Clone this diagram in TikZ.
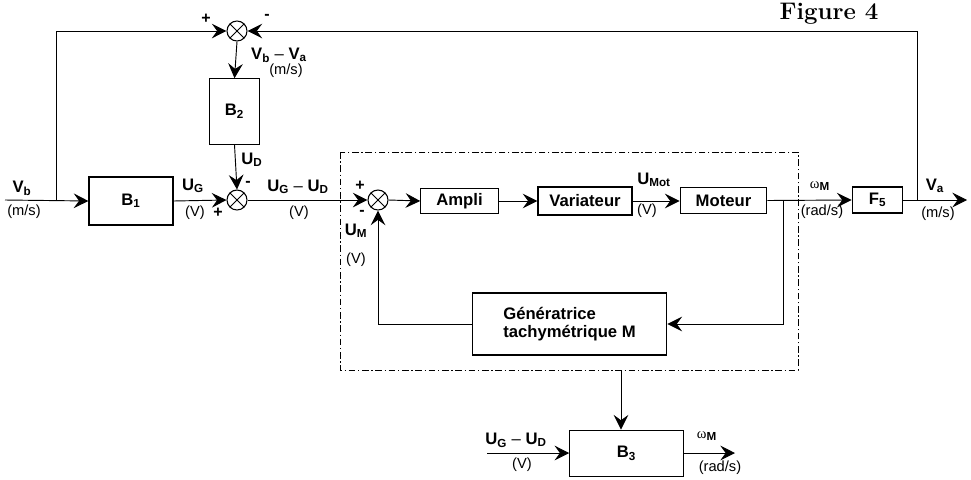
\documentclass[tikz,border=0pt]{standalone}
\usepackage{fontspec}
\setsansfont{Liberation Sans}
\newfontfamily\grkfont{Liberation Serif}
\usepackage{tikz}
\usetikzlibrary{arrows.meta}

\tikzset{
  blk/.style={draw,line width=0.9pt,font=\sffamily\bfseries\fontsize{12.5}{14}\selectfont,inner sep=1pt},
  sumnode/.style={draw,circle,line width=0.8pt,minimum size=15pt,inner sep=0pt,
    path picture={\draw[line width=0.7pt] (path picture bounding box.south west) -- (path picture bounding box.north east)
      (path picture bounding box.north west) -- (path picture bounding box.south east);}},
  sig/.style={line width=0.7pt,-{Stealth[length=11pt,width=11pt,inset=4pt]}},
  lab/.style={font=\sffamily\bfseries\fontsize{12.5}{14}\selectfont,inner sep=0pt},
  unit/.style={font=\sffamily\fontsize{11}{13}\selectfont,inner sep=0pt},
  sgn/.style={font=\sffamily\bfseries\fontsize{12}{13}\selectfont,inner sep=0pt},
}
\newcommand{\om}{{\grkfont\mdseries\fontsize{11}{13}\selectfont ω}}

\begin{document}
\begin{tikzpicture}[x=0.75pt,y=-0.75pt,font=\sffamily]
\useasboundingbox (0,0) rectangle (971,479);

% blocks
\node[blk,minimum width=63pt,minimum height=36pt] (B1) at (131,201) {B\textsubscript{1}};
\node[blk,minimum width=38pt,minimum height=49pt] (B2) at (234.5,111.5) {B\textsubscript{2}};
\node[blk,minimum width=58pt,minimum height=19pt] (ampli) at (459.5,201) {Ampli};
\node[blk,minimum width=70.5pt,minimum height=21pt] (var) at (585,201) {Variateur};
\node[blk,minimum width=65pt,minimum height=20pt] (mot) at (723.5,200.5) {Moteur};
\node[blk,minimum width=38pt,minimum height=19.5pt] (F5) at (877.5,200) {F\textsubscript{5}};
\node[blk,minimum width=146pt,minimum height=46.5pt,align=left] (gen) at (569.5,324) {G\'en\'eratrice\\tachym\'etrique M};
\node[blk,minimum width=85pt,minimum height=35pt] (B3) at (626.5,453.5) {B\textsubscript{3}};

% comparateurs
\node[sumnode] (S1) at (237,31) {};
\node[sumnode] (S2) at (237,200) {};
\node[sumnode] (S3) at (378,200) {};

% points libres
\coordinate (vin) at (5,200);
\coordinate (br1) at (56,200);
\coordinate (br2) at (783,200);
\coordinate (br3) at (917,200);
\coordinate (vout) at (967,200);
\coordinate (top) at (917,31);
\coordinate (bx) at (621,370);
\coordinate (in3) at (487,453);
\coordinate (out3) at (735,453);

% cadre
\draw[line width=0.6pt,dash pattern=on 5pt off 2pt on 1pt off 2pt] (340,152) rectangle (798,370);

% liaisons
\draw[sig] (vin) -- (B1.west);
\draw[sig] (br1) |- (S1.west);
\draw[sig] (B1.east) -- (S2.west);
\draw[sig] (S1.south) -- (B2.north);
\draw[sig] (B2.south) -- (S2.north);
\draw[sig] (S2.east) -- (S3.west);
\draw[sig] (S3.east) -- (ampli.west);
\draw[sig] (ampli.east) -- (var.west);
\draw[sig] (var.east) -- (var.east -| mot.west);
\draw[sig] (mot.east) -- (F5.west);
\draw[sig] (F5.east) -- (vout);
\draw[sig] (br3) -- (top) -- (S1.east);
\draw[sig] (br2) |- (gen.east);
\draw[sig] (gen.west) -| (S3.south);
\draw[sig] (bx) -- (bx |- B3.north);
\draw[sig] (in3) -- (in3 -| B3.west);
\draw[sig] (B3.east |- out3) -- (out3);

% textes
\node[lab] (tVb) at (22,188) {V\textsubscript{b}};
\node[unit] (uVb) at (24,212) {(m/s)};
\node[lab] (tUG) at (193,186) {U\textsubscript{G}};
\node[unit] (uUG) at (195,213) {(V)};
\node[sgn] (p2) at (218,213) {+};
\node[sgn] (m2) at (248,184) {-};
\node[lab] (tUD) at (252,160) {U\textsubscript{D}};
\node[lab] (tdiff) at (298,187) {U\textsubscript{G} {\mdseries --} U\textsubscript{D}};
\node[unit] (udiff) at (299,213) {(V)};
\node[sgn] (p1) at (206,19) {+};
\node[sgn] (m1) at (267,17) {-};
\node[lab] (terr) at (279,55) {V\textsubscript{b} {\mdseries --} V\textsubscript{a}};
\node[unit] (uerr) at (286,71) {(m/s)};
\node[sgn] (p3) at (360,186) {+};
\node[sgn] (m3) at (362,213) {-};
\node[lab] (tUM) at (356,231) {U\textsubscript{M}};
\node[unit] (uUM) at (356,260) {(V)};
\node[lab] (tUmot) at (654,180) {U\textsubscript{Mot}};
\node[unit] (uUmot) at (647,211) {(V)};
\node[lab] (tom) at (820,186) {\om\textsubscript{M}};
\node[unit] (uom) at (822,212) {(rad/s)};
\node[lab] (tVa) at (935,186) {V\textsubscript{a}};
\node[unit] (uVa) at (938,214) {(m/s)};
\node[lab] (tin3) at (516,440) {U\textsubscript{G} {\mdseries --} U\textsubscript{D}};
\node[unit] (uin3) at (522,465) {(V)};
\node[lab] (tout3) at (707,436) {\om\textsubscript{M}};
\node[unit] (uout3) at (720,468) {(rad/s)};
\node[font=\rmfamily\bfseries\fontsize{18}{20}\selectfont,inner sep=0pt] (fig) at (829,14) {Figure 4};
\end{tikzpicture}
\end{document}
